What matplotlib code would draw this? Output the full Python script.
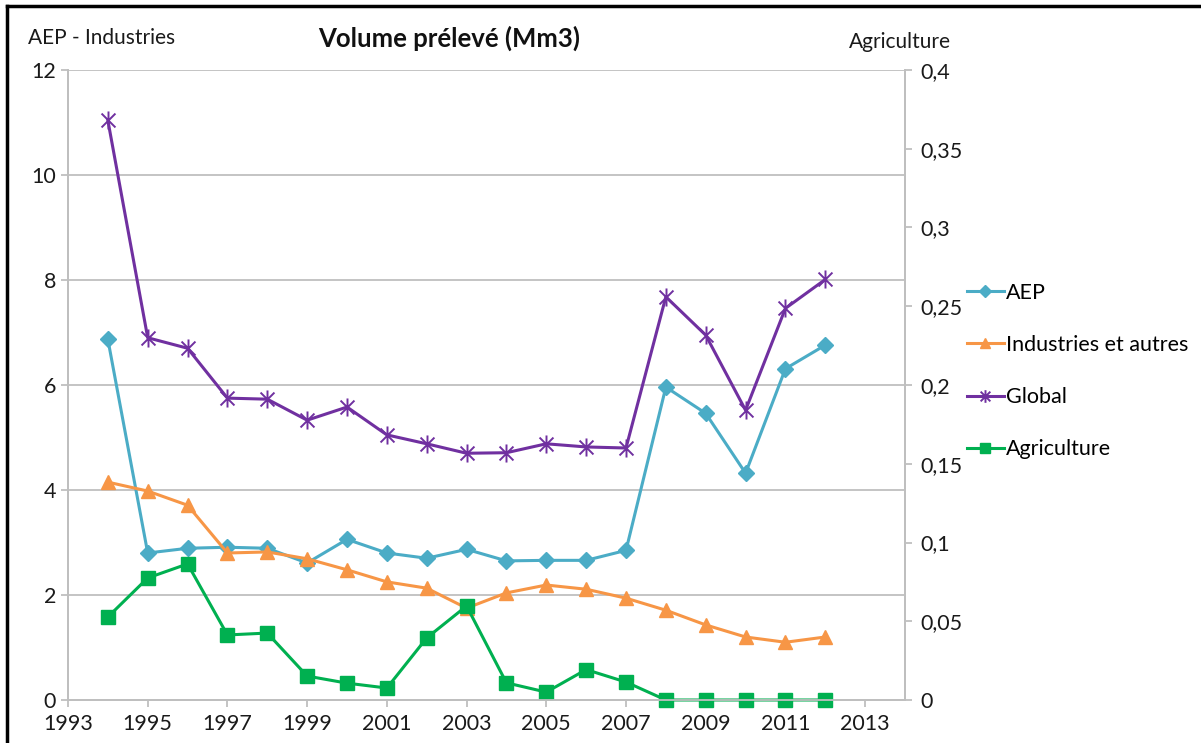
import numpy as np
import matplotlib
matplotlib.use("Agg")
import matplotlib.pyplot as plt
from matplotlib.path import Path
from matplotlib.lines import Line2D
from matplotlib.ticker import FuncFormatter, MultipleLocator

plt.rcParams['font.family'] = ['Lato', 'DejaVu Sans']

# donnees
annees = [1994, 1995, 1996, 1997, 1998, 1999, 2000, 2001, 2002, 2003,
          2004, 2005, 2006, 2007, 2008, 2009, 2010, 2011, 2012]
aep = [6.87, 2.80, 2.89, 2.91, 2.89, 2.61, 3.06, 2.80, 2.70, 2.87,
       2.65, 2.66, 2.66, 2.85, 5.96, 5.46, 4.32, 6.31, 6.76]
industries = [4.15, 3.98, 3.71, 2.80, 2.82, 2.69, 2.48, 2.25, 2.13, 1.75,
              2.04, 2.19, 2.11, 1.94, 1.71, 1.43, 1.20, 1.10, 1.20]
glob = [11.04, 6.90, 6.70, 5.75, 5.73, 5.33, 5.58, 5.05, 4.88, 4.70,
        4.71, 4.88, 4.82, 4.80, 7.68, 6.95, 5.52, 7.46, 8.01]
agriculture = [0.0527, 0.0775, 0.0864, 0.0413, 0.0425, 0.0152, 0.0107, 0.0076, 0.0394, 0.0597,
               0.0109, 0.0050, 0.0193, 0.0114, 0.0, 0.0, 0.0, 0.0, 0.0]

noms = ['AEP', 'Industries et autres', 'Global', 'Agriculture']
couleurs = ['#4BACC6', '#F79646', '#7030A0', '#00B050']

# marqueur etoile facon Excel (X + trait vertical)
etoile = Path([(-1, -1), (1, 1), (-1, 1), (1, -1), (0, -1.3), (0, 1.3)],
              [Path.MOVETO, Path.LINETO, Path.MOVETO, Path.LINETO, Path.MOVETO, Path.LINETO])

gris = '#BFBFBF'
texte = '#1a1a1a'
fig = plt.figure(figsize=(12.01, 7.43), dpi=100)
ax = fig.add_axes([68 / 1201, 1 - 700 / 743, (905 - 68) / 1201, (700 - 70) / 743])
ax2 = ax.twinx()

l1, = ax.plot(annees, aep, color=couleurs[0], lw=2.2, marker='D', ms=8.5, label=noms[0])
l2, = ax.plot(annees, industries, color=couleurs[1], lw=2.2, marker='^', ms=10, label=noms[1])
l3, = ax.plot(annees, glob, color=couleurs[2], lw=2.2, marker=etoile, ms=13, mew=1.4, label=noms[2])
l4, = ax2.plot(annees, agriculture, color=couleurs[3], lw=2.2, marker='s', ms=10, label=noms[3],
               clip_on=False)

ax.set_xlim(1993, 2014)
ax.set_xticks(range(1993, 2014, 2))
ax.set_ylim(0, 12)
ax.yaxis.set_major_locator(MultipleLocator(2))
ax2.set_ylim(0, 0.4)
ax2.yaxis.set_major_locator(MultipleLocator(0.05))
ax2.yaxis.set_major_formatter(FuncFormatter(lambda v, p: ('%g' % round(v, 2)).replace('.', ',')))

ax.grid(axis='y', color=gris, lw=1.3)
ax.set_axisbelow(True)
for a in (ax, ax2):
    a.spines['top'].set_visible(False)
    for s in ('left', 'right', 'bottom'):
        a.spines[s].set_color(gris)
        a.spines[s].set_linewidth(1.3)
    a.tick_params(colors=gris, labelcolor=texte, labelsize=15.5, length=5, width=1.3)
ax.tick_params(axis='x', pad=5)
ax2.tick_params(axis='y', pad=6)

fig.text(28 / 1201, 1 - 38 / 743, 'AEP - Industries', fontsize=15, va='center', color=texte)
fig.text(449 / 1201, 1 - 38 / 743, 'Volume prélevé (Mm3)', fontsize=18.5, fontweight='bold',
         ha='center', va='center', color='#111111')
fig.text(900 / 1201, 1 - 42 / 743, 'Agriculture', fontsize=15, ha='center', va='center', color=texte)

fig.legend(handles=[l1, l2, l3, l4], loc='upper left', bbox_to_anchor=(958 / 1201, 1 - 274 / 743),
           frameon=False, fontsize=15.5, handlelength=1.75, handletextpad=0.1, labelspacing=1.5,
           borderaxespad=0, markerscale=0.7)

# cadre noir de l'image
fig.add_artist(Line2D([7 / 1201, 7 / 1201], [0, 1 - 6 / 743], color='black', lw=2.5))
fig.add_artist(Line2D([7 / 1201, 1], [1 - 6 / 743, 1 - 6 / 743], color='black', lw=2.5))

fig.savefig('out.png', dpi=100)
